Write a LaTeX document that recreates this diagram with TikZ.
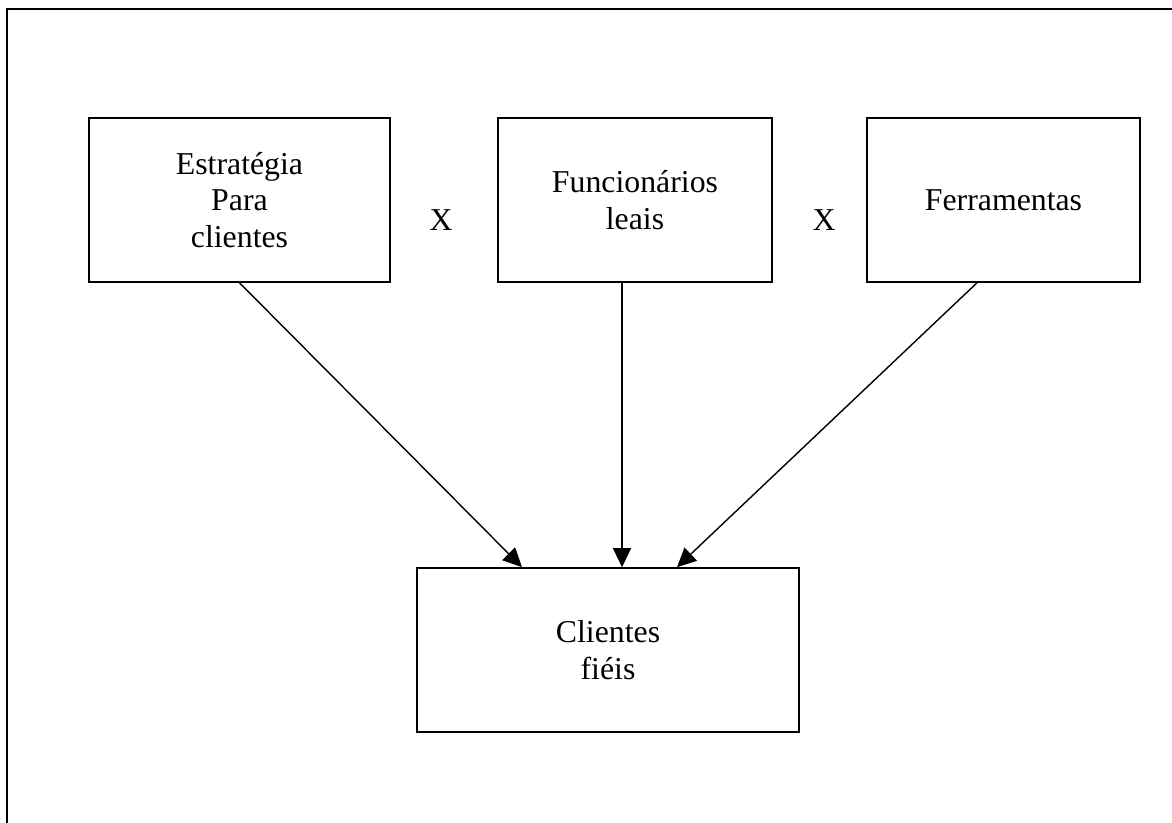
\documentclass[tikz,border=0pt]{standalone}
\usepackage{fontspec}
\setmainfont{Liberation Serif}
\usepackage{tikz}
\usetikzlibrary{arrows.meta}

\begin{document}
\begin{tikzpicture}[x=0.5pt, y=-0.5pt,
  caixa/.style={draw, line width=0.8pt, align=center, inner sep=0pt,
    minimum height=82pt, font=\fontsize{15.9}{18.3}\selectfont},
  seta/.style={line width=0.7pt, -{Triangle[length=9.5pt, width=9pt]}},
  vezes/.style={font=\fontsize{15.9}{18.3}\selectfont}]
  \useasboundingbox (0,0) rectangle (1172,823);
  % moldura
  \draw [line width=1.3pt] (7,823) -- (7,9) -- (1172,9);
  % caixas
  \node [caixa, minimum width=150.5pt] (est) at (239.5,200) {Estratégia\\Para\\clientes};
  \node [caixa, minimum width=137pt] (func) at (635,200) {Funcionários\\leais};
  \node [caixa, minimum width=136.5pt] (ferr) at (1003.5,200) {Ferramentas};
  \node [caixa, minimum width=191pt] (cli) at (608,650) {Clientes\\fiéis};
  \node [vezes] (x1) at (441,220) {X};
  \node [vezes] (x2) at (824,220) {X};
  % setas
  \draw [seta] (est.south) -- ([xshift=-43pt]cli.north);
  \draw [seta] ([xshift=-6.5pt]func.south) -- ([xshift=-6.5pt]func.south |- cli.north);
  \draw [seta] ([xshift=-13.25pt]ferr.south) -- ([xshift=34.5pt]cli.north);
\end{tikzpicture}
\end{document}
